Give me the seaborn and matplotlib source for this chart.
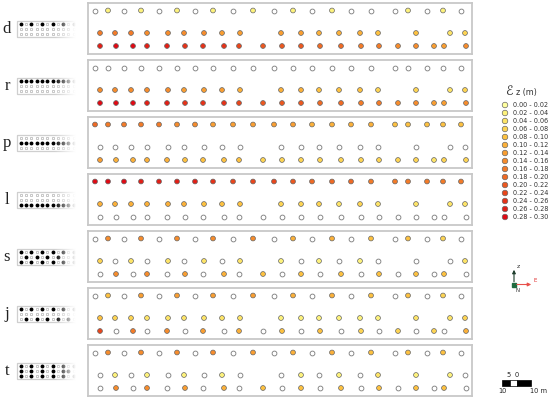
import numpy as np
import pandas as pd
import matplotlib
matplotlib.use("Agg")
import matplotlib.pyplot as plt
import seaborn as sns

n = np.nan

# sensor positions along the wall (m, panel coordinates) for the three rows
x_top = [7, 20, 36, 53, 71, 89, 107, 125, 145, 165, 186, 205, 224, 244, 263, 283, 307, 320, 339, 355, 373]
x_mid = [12, 27, 43, 59, 80, 96, 116, 134, 152, 193, 213, 231, 251, 272, 290, 328, 362, 377]
x_bot = [12, 28, 45, 59, 79, 97, 115, 136, 151, 175, 194, 213, 232, 253, 273, 291, 310, 328, 346, 356, 378]
row_depth = [7.5, 30, 43]

cases = ["d", "r", "p", "l", "s", "j", "t"]

# vertical displacement Ez (m); nan = no reading (open circle)
d_vals = [
    [n, .03, n, .03, n, .03, n, .03, n, .03, n, .03, n, .03, n, n, n, .03, n, .03, n],
    [.17, .16, .16, .15, .15, .15, .14, .13, .13, .13, .12, .11, .11, .11, .09, .09, .05, .07],
    [.27, .29, .29, .27, .27, .25, .25, .25, .23, .21, .21, .21, .19, .19, .17, .17, .15, .15, .13, .13, .15],
]
r_vals = [
    [n] * 21,
    [.15, .15, .15, .15, .15, .13, .13, .13, .11, .11, .11, .09, .09, .09, .07, .07, .05, .07],
    [.29, .29, .29, .27, .27, .25, .25, .25, .23, .21, .21, .21, .19, .19, .17, .17, .15, .15, .13, .13, .15],
]
p_vals = [
    [.19, .17, .17, .17, .17, .15, .15, .13, .13, .13, .13, .13, .11, .11, .11, .11, .09, .09, .09, .09, .09],
    [n] * 18,
    [.13, .11, .11, .11, .11, .09, .09, .09, .09, .07, .07, .07, .07, .07, .07, .07, .07, .07, .05, .07, .07],
]
l_vals = [
    [.29, .29, .29, .27, .27, .27, .27, .25, .23, .23, .23, .21, .19, .19, .19, .17, .17, .17, .17, .17, .17],
    [.11, .11, .11, .11, .11, .11, .09, .09, .09, .07, .07, .07, .05, .07, .05, .05, .05, .05],
    [n] * 21,
]
s_vals = [
    [n, .15, n, .15, n, .15, n, .15, n, .15, n, .11, n, .11, n, .09, n, .09, n, .07, n],
    [.07, n, .05, n, .05, n, .05, n, .05, .03, n, .03, n, .03, n, n, n, .05],
    [n, .15, n, .15, n, .13, n, .11, n, .09, n, .09, n, .09, n, .09, n, .09, n, .09, n],
]
j_vals = [
    [n, .09, n, .13, n, .13, n, .13, n, .13, n, .11, n, .11, n, .09, n, .09, n, .07, n],
    [.09, .07, .07, .05, .05, .05, .05, .05, .05, .03, .03, .03, .03, .03, .03, .05, .05, .07],
    [.23, n, .17, n, .15, n, .13, n, .11, n, .09, n, .09, n, .07, n, .07, n, .07, n, .11],
]
t_vals = [
    [n, .15, n, .15, n, .15, n, .15, n, .13, n, .11, n, .11, n, .09, n, .09, n, .09, n],
    [n, .03, n, .03, n, .03, n, .03, n, n, .03, n, .03, n, .05, .03, .03, n],
    [n, .15, n, .15, n, .13, n, .11, n, .09, n, .09, n, .09, n, .09, n, .09, n, .09, n],
]
all_vals = [d_vals, r_vals, p_vals, l_vals, s_vals, j_vals, t_vals]

class_labels = ["%.2f - %.2f" % (k * 0.02, (k + 1) * 0.02) for k in range(15)]
colors = ["#ffff9e", "#fdf27c", "#fde468", "#fdd453", "#fdc140", "#fbb039", "#f99e31",
          "#f68c2c", "#f37b28", "#ef6a24", "#eb5820", "#e8461c", "#e53218", "#e21f16", "#e00a14"]
palette = dict(zip(range(15), colors))

# long table
rows = []
for case, vals in zip(cases, all_vals):
    for r, (xs, vs) in enumerate(zip([x_top, x_mid, x_bot], vals)):
        for x, v in zip(xs, vs):
            rows.append({"case": case, "row": r, "x": x, "depth": row_depth[r], "ez": v})
df = pd.DataFrame(rows)
df["cls"] = np.clip(np.floor(df["ez"] / 0.02 + 1e-9), 0, 14)

W, H = 550, 399
fig = plt.figure(figsize=(W / 100, H / 100), dpi=100)
fig.patch.set_facecolor("white")


def box(x0, y0, w, h):
    return [x0 / W, 1 - (y0 + h) / H, w / W, h / H]


for i, case in enumerate(cases):
    top = 3 + 57 * i
    ax = fig.add_axes(box(88, top, 384, 51))
    sub = df[df["case"] == case]
    filled = sub.dropna(subset=["ez"]).copy()
    filled["cls"] = filled["cls"].astype(int)
    empty = sub[sub["ez"].isna()]
    sns.scatterplot(data=empty, x="x", y="depth", color="white", edgecolor="#7a7a7a",
                    linewidth=0.6, s=12, ax=ax, legend=False)
    sns.scatterplot(data=filled, x="x", y="depth", hue="cls", palette=palette,
                    edgecolor="#666666", linewidth=0.5, s=12, ax=ax, legend=False)
    ax.set_xlim(0, 384)
    ax.set_ylim(51, 0)
    ax.set_xticks([])
    ax.set_yticks([])
    ax.set_xlabel("")
    ax.set_ylabel("")
    for sp in ax.spines.values():
        sp.set_color("#c8c8c8")
        sp.set_linewidth(1.3)

    # case letter
    fig.text(7 / W, 1 - (top + 26) / H, case, family="Liberation Serif", fontsize=12,
             ha="center", va="center", color="#222222")

    # loading pattern thumbnail
    c = top + 26
    axt = fig.add_axes(box(16, c - 9, 62, 18))
    axt.set_xlim(0, 62)
    axt.set_ylim(18, 0)
    axt.axis("off")
    axt.plot([62, 0.5, 0.5, 62], [0.6, 0.6, 17.4, 17.4], color="#cfcfcf", lw=0.9,
             clip_on=False, zorder=1)
    vals = all_vals[i]
    for r, ty in enumerate([3.6, 9, 14.4]):
        v = np.array(vals[r][:11], dtype=float)
        tx = 4.7 + 5.3 * np.arange(11)
        black = np.isnan(v)
        axt.scatter(tx[black], [ty] * black.sum(), s=3.2, color="black", zorder=2)
        axt.scatter(tx[~black], [ty] * (~black).sum(), s=3.2, facecolor="white",
                    edgecolor="#a0a0a0", linewidth=0.4, zorder=2)
    grad = np.ones((1, 64, 4))
    grad[0, :, 3] = np.clip(np.linspace(-0.1, 1.2, 64), 0, 1)
    axt.imshow(grad, extent=[36, 64, 19, -1], aspect="auto", zorder=5, clip_on=False)
    axt.set_xlim(0, 62)
    axt.set_ylim(18, 0)

# legend
axl = fig.add_axes(box(495, 85, 55, 140))
axl.set_xlim(495, 550)
axl.set_ylim(225, 85)
axl.axis("off")
leg = pd.DataFrame({"cls": list(range(15)), "y": [105 + 8 * k for k in range(15)], "x": 505})
sns.scatterplot(data=leg, x="x", y="y", hue="cls", palette=palette, edgecolor="#666666",
                linewidth=0.5, s=16, ax=axl, legend=False)
for k, lab in enumerate(class_labels):
    axl.text(513, 105 + 8 * k, lab, fontsize=4.7, va="center", ha="left", color="#333333")
axl.text(509, 91.5, "\u2130", fontsize=9, va="center", ha="center", color="#333333")
axl.text(515.5, 92.5, "z (m)", fontsize=5.8, va="center", ha="left", color="#333333")

# north arrow and scale bar on an overlay
ov = fig.add_axes([0, 0, 1, 1])
ov.set_xlim(0, W)
ov.set_ylim(H, 0)
ov.axis("off")
ov.patch.set_alpha(0)
ov.annotate("", xy=(534, 284.5), xytext=(514, 284.5),
            arrowprops=dict(arrowstyle="-|>", color="#e8504a", lw=0.8, mutation_scale=5))
ov.annotate("", xy=(514, 267), xytext=(514, 284.5),
            arrowprops=dict(arrowstyle="-|>", color="#1d3d2c", lw=0.8, mutation_scale=5))
ov.plot([514], [284.5], marker="s", ms=2.5, color="#1f6b3f")
ov.text(517, 266, "z", fontsize=4.5, color="#333333", va="center")
ov.text(534, 281, "E", fontsize=4, color="#e03030", va="center")
ov.text(518, 291, "N", fontsize=4, color="#333333", va="center", ha="center")

ov.add_patch(plt.Rectangle((502, 380), 8, 6, facecolor="black", edgecolor="black", lw=0.5))
ov.add_patch(plt.Rectangle((510, 380), 7, 6, facecolor="white", edgecolor="black", lw=0.5))
ov.add_patch(plt.Rectangle((517, 380), 14, 6, facecolor="black", edgecolor="black", lw=0.5))
ov.text(509, 375, "5", fontsize=4.8, ha="center", va="center", color="#222222")
ov.text(517, 375, "0", fontsize=4.8, ha="center", va="center", color="#222222")
ov.text(502, 391, "10", fontsize=4.8, ha="center", va="center", color="#222222")
ov.text(538, 391, "10 m", fontsize=4.8, ha="center", va="center", color="#222222")

fig.savefig("out.png", dpi=100, facecolor="white")
